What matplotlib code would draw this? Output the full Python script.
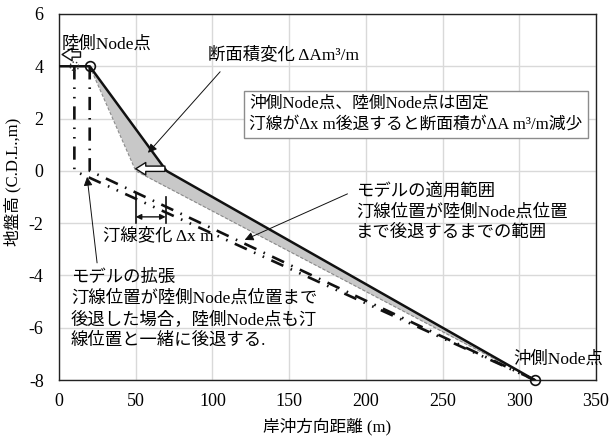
import matplotlib
matplotlib.use("Agg")
import matplotlib.pyplot as plt
import numpy as np
from matplotlib.patches import Ellipse

plt.rcParams['font.family'] = ['Liberation Serif', 'Noto Sans CJK JP', 'DejaVu Sans']
plt.rcParams['axes.unicode_minus'] = False

# Cross-shore profiles (distance in m, elevation in C.D.L. m)
x_initial = [0, 20, 70, 310]
z_initial = [4, 4, 0, -8]
x_retreat = [0, 20, 50, 310]
z_retreat = [4, 4, 0, -8]
x_ext_a = [10, 10, 310]
z_ext_a = [4, 0, -8]
x_ext_b = [20, 20, 310]
z_ext_b = [4, 0, -8]

land_node = (20, 4)
sea_node = (310, -8)
land_node_moved = (10, 4)
shore_before = 70
shore_after = 50

xticks = [0, 50, 100, 150, 200, 250, 300, 350]
yticks = [-8, -6, -4, -2, 0, 2, 4, 6]

fig = plt.figure(figsize=(6.11, 4.37), dpi=100)
ax = fig.add_axes([0.0966, 0.1304, 0.8789, 0.8376])
ax.set_xlim(0, 350)
ax.set_ylim(-8, 6)
ax.set_xticks(xticks)
ax.set_yticks(yticks)
ax.set_xticklabels([str(v) for v in xticks])
ax.set_yticklabels([str(v) for v in yticks])
ax.tick_params(length=0, labelsize=13)
ax.tick_params(axis='y', pad=11)
ax.tick_params(axis='x', pad=9)
ax.grid(True, color='#d9d9d9', lw=1.0)
ax.set_axisbelow(True)
for s in ax.spines.values():
    s.set_color('#222222')
    s.set_linewidth(1.0)

# area lost between the two profiles
xs = np.linspace(20, 310, 600)
up = np.interp(xs, x_initial, z_initial)
lo = np.interp(xs, x_retreat, z_retreat)
ax.fill_between(xs, lo, up, color='#c8c8c8', lw=0, zorder=2)
ax.plot(x_retreat[1:], z_retreat[1:], color='#8a8a8a', lw=0.8, ls=(0, (3, 1.5)), zorder=3)

# extension profiles
ax.plot(x_ext_a, z_ext_a, color='#111111', lw=1.9,
        ls=(0, (5, 3, 0.6, 3, 0.6, 3)), zorder=4)
ax.plot(x_ext_b, z_ext_b, color='#111111', lw=1.9,
        ls=(0, (5, 3, 0.6, 3)), zorder=4)

# initial profile
ax.plot(x_initial, z_initial, color='#111111', lw=1.8, zorder=5)
ax.plot(*land_node, marker='o', ms=7, mfc='none', mec='#111111', mew=1.2, zorder=6)
ax.plot(*sea_node, marker='o', ms=7, mfc='none', mec='#111111', mew=1.2, zorder=6, clip_on=False)
ax.add_patch(Ellipse(land_node_moved, width=5.5, height=0.33, fill=False,
                     ec='#333333', lw=1.0, ls=(0, (1, 1.5)), zorder=6))

hollow = dict(arrowstyle='simple,head_length=0.6,head_width=0.75,tail_width=0.32',
              fc='white', ec='#111111', lw=1.0, mutation_scale=12,
              shrinkA=0, shrinkB=0)
# shoreline retreat arrow
ax.annotate('', xy=(shore_after, 0.08), xytext=(shore_before - 1, 0.08),
            arrowprops=hollow, zorder=7)
# landward node shift arrow
ax.annotate('', xy=(2, 4.45), xytext=(14, 4.45), arrowprops=hollow, zorder=7)

# shoreline change dimension
ax.plot([shore_after, shore_after], [-0.84, -2.0], color='#111111', lw=1.2, zorder=7)
ax.plot([shore_before - 0.5, shore_before - 0.5], [-1.0, -2.0], color='#111111', lw=1.2, zorder=7)
ax.annotate('', xy=(shore_after, -1.76), xytext=(shore_before - 0.5, -1.76),
            arrowprops=dict(arrowstyle='<|-|>', color='#111111', lw=1.0,
                            mutation_scale=8, shrinkA=0, shrinkB=0), zorder=7)

fs = 12.5
thin = dict(arrowstyle='-|>', color='#111111', lw=0.7, mutation_scale=13,
            shrinkA=0, shrinkB=0)

ax.text(2, 4.82, '陸側Node点', fontsize=fs, va='center', ha='left', zorder=8)
ax.text(97, 4.44, '断面積変化 ΔAm³/m', fontsize=fs, va='center', ha='left', zorder=8)
ax.annotate('', xy=(58, 0.69), xytext=(105, 3.79), arrowprops=thin, zorder=8)

ax.text(124, 2.16, '沖側Node点、陸側Node点は固定\n汀線がΔx m後退すると断面積がΔA m³/m減少',
        fontsize=12.1, va='center', ha='left', linespacing=1.4, zorder=8,
        bbox=dict(boxstyle='square,pad=0.32', fc='white', ec='#8c8c8c', lw=1.0))

ax.text(193.6, -1.58, 'モデルの適用範囲\n汀線位置が陸側Node点位置\nまで後退するまでの範囲',
        fontsize=fs, va='center', ha='left', linespacing=1.35, zorder=8)
ax.annotate('', xy=(121, -2.64), xytext=(188, -0.88), arrowprops=thin, zorder=8)

ax.text(28.7, -2.49, '汀線変化 Δx m', fontsize=fs, va='center', ha='left', zorder=8)

ax.text(7.8, -5.3, 'モデルの拡張\n汀線位置が陸側Node点位置まで\n後退した場合，陸側Node点も汀\n線位置と一緒に後退する.',
        fontsize=fs, va='center', ha='left', linespacing=1.35, zorder=8)
ax.annotate('', xy=(18.3, -0.23), xytext=(24.8, -3.52), arrowprops=thin, zorder=8)

ax.text(296, -7.23, '沖側Node点', fontsize=fs, va='center', ha='left', zorder=8)

ax.set_xlabel('岸沖方向距離 (m)', fontsize=12, labelpad=6)
ax.set_ylabel('地盤高 (C.D.L.,m)', fontsize=12)
ax.yaxis.set_label_coords(-0.07, 0.54)

fig.savefig('out.png', dpi=100)
